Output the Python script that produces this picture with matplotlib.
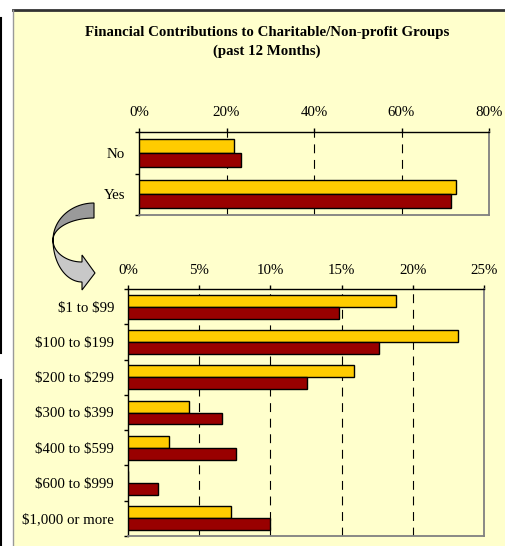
import matplotlib
matplotlib.use("Agg")
import matplotlib.pyplot as plt
import numpy as np
from matplotlib.patches import Rectangle, Polygon
from matplotlib.lines import Line2D
from matplotlib.ticker import FixedLocator, PercentFormatter

plt.rcParams["font.family"] = ["Liberation Serif", "DejaVu Serif"]
plt.rcParams["text.parse_math"] = False  # labels contain "$"

# data (percent)
yn_labels = ["No", "Yes"]
yn_series_a = [21.8, 72.5]   # yellow
yn_series_b = [23.3, 71.3]   # dark red

amt_labels = ["$1 to $99", "$100 to $199", "$200 to $299", "$300 to $399",
              "$400 to $599", "$600 to $999", "$1,000 or more"]
amt_series_a = [18.8, 23.2, 15.9, 4.3, 2.9, 0.0, 7.2]
amt_series_b = [14.8, 17.6, 12.6, 6.6, 7.6, 2.1, 10.0]

title = "Financial Contributions to Charitable/Non-profit Groups\n(past 12 Months)"

W, H = 505, 546
panel = "#FFFFCC"
yellow = "#FFCC00"
red = "#990000"
fs = 10.7

fig = plt.figure(figsize=(W / 100, H / 100), dpi=100)
fig.patch.set_facecolor("white")


def fx(x):
    return x / W


def fy(y):
    return 1 - y / H


# chart area background and borders
fig.add_artist(Rectangle((fx(13), 0), 1, fy(10), transform=fig.transFigure,
                         facecolor=panel, edgecolor="none", zorder=0))
fig.add_artist(Line2D([fx(13), 1], [fy(10), fy(10)], transform=fig.transFigure,
                      color="#333333", lw=2))
fig.add_artist(Line2D([fx(13), fx(13)], [fy(10), 0], transform=fig.transFigure,
                      color="#999999", lw=1))
# stray page lines on the far left
fig.add_artist(Line2D([fx(1), fx(1)], [fy(18), fy(353)], transform=fig.transFigure,
                      color="black", lw=1.5))
fig.add_artist(Line2D([fx(1), fx(1)], [fy(380), 0], transform=fig.transFigure,
                      color="black", lw=1.5))

fig.text(fx(267), fy(42), title, ha="center", va="center", fontsize=fs,
         fontweight="bold", linespacing=1.5)


def bar_panel(rect, labels, a, b, xmax, step):
    ax = fig.add_axes(rect)
    ax.set_facecolor(panel)
    y = np.arange(len(labels))
    h = 0.34
    ax.barh(y - h / 2, a, height=h, color=yellow, edgecolor="black", lw=1, zorder=3)
    ax.barh(y + h / 2, b, height=h, color=red, edgecolor="black", lw=1, zorder=3)
    ax.set_xlim(0, xmax)
    ax.set_ylim(len(labels) - 0.5, -0.5)
    ax.xaxis.tick_top()
    ax.set_xticks(np.arange(0, xmax + 0.01, step))
    ax.xaxis.set_major_formatter(PercentFormatter(decimals=0))
    ax.tick_params(axis="x", length=3, width=1, pad=6, labelsize=fs)
    ax.set_yticks(y)
    ax.set_yticklabels(labels)
    ax.tick_params(axis="y", which="major", length=0, pad=10, labelsize=fs)
    ax.yaxis.set_minor_locator(FixedLocator(np.arange(-0.5, len(labels), 1)))
    ax.tick_params(axis="y", which="minor", length=3, width=1)
    for x in np.arange(step, xmax - 0.01, step):
        ax.axvline(x, color="black", lw=0.8, ls=(0, (8, 6)), zorder=1)
    ax.spines["top"].set_color("black")
    ax.spines["left"].set_color("black")
    ax.spines["right"].set_color("#808080")
    ax.spines["bottom"].set_color("#808080")
    for s in ax.spines.values():
        s.set_linewidth(1)
    ax.spines["right"].set_linewidth(1.3)
    ax.spines["bottom"].set_linewidth(1.3)
    return ax


bar_panel([fx(139), fy(215), fx(489) - fx(139), fy(132) - fy(215)],
          yn_labels, yn_series_a, yn_series_b, 80, 20)
bar_panel([fx(128), fy(536), fx(484) - fx(128), fy(289) - fy(536)],
          amt_labels, amt_series_a, amt_series_b, 25, 5)

# curved block arrow linking the two charts
t = np.linspace(0, np.pi / 2, 30)
upper = np.vstack([
    np.column_stack([94 - 41 * np.sin(t), 240 - 37 * np.cos(t)]),
    np.column_stack([94 - 41 * np.sin(t[::-1]), 240 - 22 * np.cos(t[::-1])]),
])
lower = np.vstack([
    np.column_stack([82 - 29 * np.cos(t), 240 + 22 * np.sin(t)]),
    [[82, 255], [95, 273], [82, 290]],
    np.column_stack([82 - 29 * np.cos(t[::-1]), 240 + 42 * np.sin(t[::-1])]),
])
for pts, col in [(lower, "#C8C8C8"), (upper, "#9A9A9A")]:
    fig.add_artist(Polygon(np.column_stack([pts[:, 0] / W, 1 - pts[:, 1] / H]),
                           closed=True, transform=fig.transFigure,
                           facecolor=col, edgecolor="black", lw=0.8))

fig.savefig("out.png", dpi=100)
